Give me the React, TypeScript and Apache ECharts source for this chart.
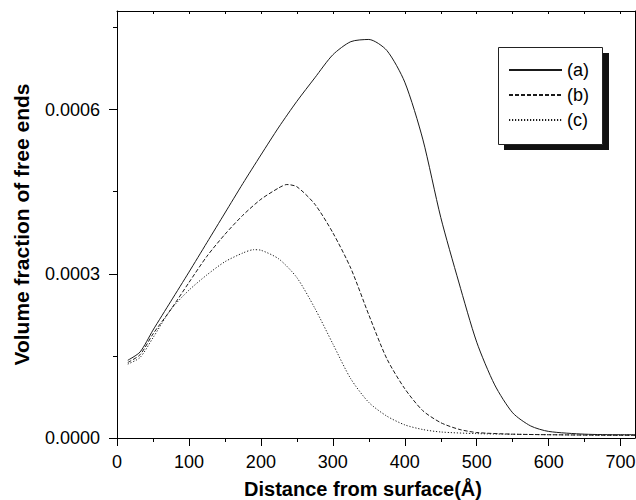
import React, { useEffect, useRef } from "react";
import * as echarts from "echarts";

// Distance from surface (Å) and volume fraction of free ends for each curve
const distA = [15, 32, 50, 75, 100, 125, 150, 175, 200, 225, 250, 275, 300, 325, 350, 375, 400, 425, 450, 475, 500, 525, 550, 575, 600, 650, 700, 720];
const fracA = [1.42e-4, 1.57e-4, 1.97e-4, 2.50e-4, 3.03e-4, 3.57e-4, 4.11e-4, 4.65e-4, 5.17e-4, 5.68e-4, 6.15e-4, 6.58e-4, 7.00e-4, 7.24e-4, 7.28e-4, 7.08e-4, 6.50e-4, 5.46e-4, 4.03e-4, 2.85e-4, 1.75e-4, 9.7e-5, 4.6e-5, 2.2e-5, 1.2e-5, 7e-6, 6e-6, 6e-6];

const distB = [15, 32, 50, 75, 100, 125, 150, 175, 200, 225, 236, 250, 275, 300, 325, 350, 375, 400, 425, 450, 475, 500, 550, 600, 700, 720];
const fracB = [1.38e-4, 1.52e-4, 1.90e-4, 2.35e-4, 2.84e-4, 3.32e-4, 3.72e-4, 4.07e-4, 4.36e-4, 4.57e-4, 4.63e-4, 4.59e-4, 4.27e-4, 3.75e-4, 3.10e-4, 2.25e-4, 1.45e-4, 9.0e-5, 5.0e-5, 2.8e-5, 1.6e-5, 1.0e-5, 7e-6, 6e-6, 5e-6, 5e-6];

const distC = [15, 32, 50, 75, 100, 125, 150, 175, 190, 200, 225, 250, 275, 300, 325, 350, 375, 400, 425, 450, 500, 600, 700, 720];
const fracC = [1.35e-4, 1.47e-4, 1.83e-4, 2.35e-4, 2.70e-4, 2.98e-4, 3.22e-4, 3.38e-4, 3.44e-4, 3.43e-4, 3.27e-4, 2.93e-4, 2.37e-4, 1.72e-4, 1.08e-4, 6.5e-5, 4.0e-5, 2.4e-5, 1.55e-5, 1.1e-5, 8e-6, 6e-6, 5e-6, 5e-6];

const seriesNames = ["(a)", "(b)", "(c)"];

const xMajorTicks = [0, 100, 200, 300, 400, 500, 600, 700];
const xMinorTicks = [50, 150, 250, 350, 450, 550, 650];
const xTopTicks = [50, 100, 150, 200, 250, 300, 350, 400, 450, 500, 550, 600, 650, 700];
const yMajorTicks = [0, 0.0003, 0.0006];
const yMinorTicks = [0.00015, 0.00045, 0.00075];

const X_MAX = 720;
const Y_MAX = 0.00078;
const FONT = "'Liberation Sans', Arial, sans-serif";

const zip = (xs: number[], ys: number[]) => xs.map((x, i) => [x, ys[i]]);

export default function App() {
  const ref = useRef<HTMLDivElement>(null);

  useEffect(() => {
    if (!ref.current) return;
    const chart = echarts.init(ref.current, null, { renderer: "svg" });
    const lineColor = "#1a1a1a";
    const axisCommon = {
      type: "value" as const,
      min: 0,
      axisLine: { show: true, onZero: false, lineStyle: { color: "#000", width: 1 } },
      splitLine: { show: false },
    };
    chart.setOption({
      animation: false,
      backgroundColor: "#fff",
      grid: { left: 117, top: 11, right: 1, bottom: 62, containLabel: false, outerBoundsMode: "none" },
      xAxis: [
        {
          ...axisCommon,
          max: X_MAX,
          position: "bottom",
          name: "Distance from surface(Å)",
          nameLocation: "middle",
          nameGap: 41,
          nameTextStyle: {
            fontFamily: FONT,
            fontSize: 20,
            lineHeight: 20,
            fontWeight: "bold",
            color: "#000",
            padding: [0, 26, 0, 0],
          },
          axisTick: { show: true, length: 8, customValues: xMajorTicks, lineStyle: { color: "#000" } },
          axisLabel: { customValues: xMajorTicks, margin: 15, fontFamily: FONT, fontSize: 18, color: "#000" },
        },
        {
          ...axisCommon,
          max: X_MAX,
          position: "bottom",
          axisLine: { show: false },
          axisTick: { show: true, length: 4, customValues: xMinorTicks, lineStyle: { color: "#000" } },
          axisLabel: { show: false },
        },
        {
          ...axisCommon,
          max: X_MAX,
          position: "top",
          axisTick: { show: true, inside: true, length: 3, customValues: xTopTicks, lineStyle: { color: "#000" } },
          axisLabel: { show: false },
        },
      ],
      yAxis: [
        {
          ...axisCommon,
          max: Y_MAX,
          position: "left",
          name: "Volume fraction of free ends",
          nameLocation: "middle",
          nameGap: 85,
          nameTextStyle: { fontFamily: FONT, fontSize: 21, fontWeight: "bold", color: "#000" },
          axisTick: { show: true, length: 8, customValues: yMajorTicks, lineStyle: { color: "#000" } },
          axisLabel: {
            customValues: yMajorTicks,
            margin: 17,
            fontFamily: FONT,
            fontSize: 18,
            color: "#000",
            formatter: (v: number) => v.toFixed(4),
          },
        },
        {
          ...axisCommon,
          max: Y_MAX,
          position: "left",
          axisLine: { show: false },
          axisTick: { show: true, length: 4, customValues: yMinorTicks, lineStyle: { color: "#000" } },
          axisLabel: { show: false },
        },
        {
          ...axisCommon,
          max: Y_MAX,
          position: "right",
          axisTick: { show: false },
          axisLabel: { show: false },
        },
      ],
      legend: {
        left: 508,
        top: 61,
        orient: "vertical",
        itemWidth: 53,
        itemHeight: 18,
        itemGap: 7,
        padding: 0,
        data: seriesNames,
        itemStyle: { opacity: 0 },
        textStyle: { fontFamily: FONT, fontSize: 18, lineHeight: 18, color: "#000" },
      },
      graphic: [
        { type: "rect", z: 1, shape: { x: 504, y: 53, width: 105, height: 97 }, style: { fill: "#111" } },
        { type: "rect", z: 2, shape: { x: 498.5, y: 47.5, width: 104, height: 97 }, style: { fill: "#fff", stroke: "#222", lineWidth: 1 } },
      ],
      series: [
        {
          name: seriesNames[0],
          type: "line",
          data: zip(distA, fracA),
          symbol: "none",
          smooth: 0.25,
          lineStyle: { color: lineColor, width: 1, type: "solid" },
          itemStyle: { color: lineColor },
        },
        {
          name: seriesNames[1],
          type: "line",
          data: zip(distB, fracB),
          symbol: "none",
          smooth: 0.25,
          lineStyle: { color: lineColor, width: 1, type: [4, 2] },
          itemStyle: { color: lineColor },
        },
        {
          name: seriesNames[2],
          type: "line",
          data: zip(distC, fracC),
          symbol: "none",
          smooth: 0.25,
          lineStyle: { color: lineColor, width: 1, type: [1.2, 1.8] },
          itemStyle: { color: lineColor },
        },
      ],
    });
    return () => chart.dispose();
  }, []);

  return (
    <div
      ref={ref}
      style={{ position: "absolute", left: 0, top: 0, width: 636, height: 500 }}
    />
  );
}
